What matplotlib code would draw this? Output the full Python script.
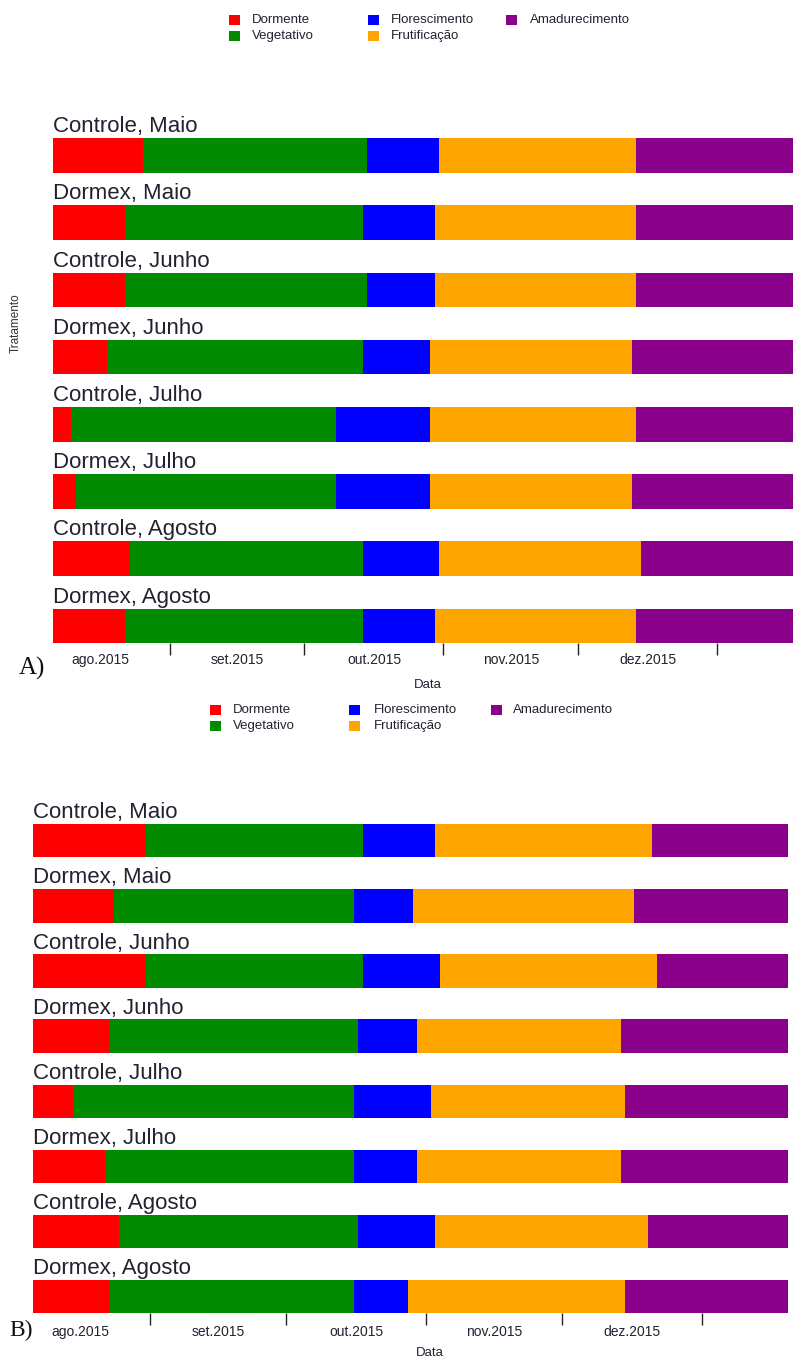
import matplotlib
matplotlib.use("Agg")
import matplotlib.pyplot as plt
import matplotlib.dates as mdates
from matplotlib.patches import Rectangle
from matplotlib.ticker import FixedLocator, NullFormatter, FixedFormatter
from datetime import date

plt.rcParams['font.family'] = ['Liberation Sans', 'DejaVu Sans']

# ---------------------------------------------------------------- data
treatments = ["Controle, Maio", "Dormex, Maio", "Controle, Junho", "Dormex, Junho",
              "Controle, Julho", "Dormex, Julho", "Controle, Agosto", "Dormex, Agosto"]
phases = ["Dormente", "Vegetativo", "Florescimento", "Frutificação", "Amadurecimento"]
phase_colors = ["#FF0000", "#008B00", "#0000FF", "#FFA500", "#8B008B"]

month_labels = ["ago.2015", "set.2015", "out.2015", "nov.2015", "dez.2015"]

season_start = "2015-08-06"
season_end = "2016-01-20"

# Panel A: end date of each phase per treatment
a_dormente_end = ["2015-08-26", "2015-08-22", "2015-08-22", "2015-08-18",
                  "2015-08-10", "2015-08-11", "2015-08-23", "2015-08-22"]
a_vegetativo_end = ["2015-10-15", "2015-10-14", "2015-10-15", "2015-10-14",
                    "2015-10-08", "2015-10-08", "2015-10-14", "2015-10-14"]
a_florescimento_end = ["2015-10-31", "2015-10-30", "2015-10-30", "2015-10-29",
                       "2015-10-29", "2015-10-29", "2015-10-31", "2015-10-30"]
a_frutificacao_end = ["2015-12-14", "2015-12-14", "2015-12-14", "2015-12-13",
                      "2015-12-14", "2015-12-13", "2015-12-15", "2015-12-14"]

# Panel B: end date of each phase per treatment
b_dormente_end = ["2015-08-31", "2015-08-24", "2015-08-31", "2015-08-23",
                  "2015-08-15", "2015-08-22", "2015-08-25", "2015-08-23"]
b_vegetativo_end = ["2015-10-18", "2015-10-16", "2015-10-18", "2015-10-17",
                    "2015-10-16", "2015-10-16", "2015-10-17", "2015-10-16"]
b_florescimento_end = ["2015-11-03", "2015-10-29", "2015-11-04", "2015-10-30",
                       "2015-11-02", "2015-10-30", "2015-11-03", "2015-10-28"]
b_frutificacao_end = ["2015-12-21", "2015-12-17", "2015-12-22", "2015-12-14",
                      "2015-12-15", "2015-12-14", "2015-12-20", "2015-12-15"]

# ---------------------------------------------------------------- figure
W, H, DPI = 793, 1358, 100
fig = plt.figure(figsize=(W / DPI, H / DPI), dpi=DPI)
fig.patch.set_facecolor("white")

TEXT = "#222230"


def fx(px):
    return px / W


def fy(py):
    return 1 - py / H


def d2n(s):
    return mdates.datestr2num(s)


def draw_panel(ends, left_px, right_px, c0, spacing, bar_h, title_gap, label_pad):
    n = len(treatments)
    hh = bar_h / spacing / 2
    top_px = c0 - 0.95 * spacing
    bottom_px = c0 + (n - 1) * spacing + bar_h / 2
    ax = fig.add_axes([fx(left_px), fy(bottom_px),
                       (right_px - left_px) / W, (bottom_px - top_px) / H])
    x0, x1 = d2n(season_start), d2n(season_end)
    ax.set_xlim(x0, x1)
    ax.set_ylim(n - 1 + hh, -0.95)

    for i in range(n):
        bounds = [x0] + [d2n(e[i]) for e in ends] + [x1]
        for k in range(len(phases)):
            ax.barh(i, bounds[k + 1] - bounds[k], left=bounds[k],
                    height=2 * hh, color=phase_colors[k], edgecolor="none")
        ax.text(x0, i - hh - title_gap / spacing, treatments[i],
                ha="left", va="baseline", fontsize=16, color=TEXT)

    for s in ax.spines.values():
        s.set_visible(False)
    ax.set_yticks([])

    # month boundaries as tick marks, month names centred in each month
    firsts = [date(2015, m, 1) for m in range(9, 13)] + [date(2016, 1, 1)]
    ax.xaxis.set_major_locator(FixedLocator([mdates.date2num(d) for d in firsts]))
    ax.xaxis.set_major_formatter(NullFormatter())
    mids = []
    for m in range(8, 13):
        a = date(2015, m, 1)
        b = date(2015, m + 1, 1) if m < 12 else date(2016, 1, 1)
        mids.append(mdates.date2num(a) + (b - a).days / 2)
    ax.xaxis.set_minor_locator(FixedLocator(mids))
    ax.xaxis.set_minor_formatter(FixedFormatter(month_labels))
    ax.tick_params(axis="x", which="major", length=8.8, width=1.0,
                   color="#222222", direction="out")
    ax.tick_params(axis="x", which="minor", length=0, pad=label_pad,
                   labelsize=10, labelcolor=TEXT)
    return ax


draw_panel([a_dormente_end, a_vegetativo_end, a_florescimento_end, a_frutificacao_end],
           53.4, 802.2, 155.3, 67.24, 34.5, 6.0, 7.0)
draw_panel([b_dormente_end, b_vegetativo_end, b_florescimento_end, b_frutificacao_end],
           32.7, 787.9, 840.7, 65.14, 33.5, 5.7, 8.0)


def legend(square_x, text_x, row_y):
    slots = [(0, 0), (0, 1), (1, 0), (1, 1), (2, 0)]
    for (col, row), name, col_c in zip(slots, phases, phase_colors):
        sx, ty = square_x[col], row_y[row]
        fig.patches.append(Rectangle((fx(sx), fy(ty + 5)), 11 / W, 10 / H,
                                     transform=fig.transFigure,
                                     facecolor=col_c, edgecolor="none"))
        fig.text(fx(text_x[col]), fy(ty), name, ha="left", va="center",
                 fontsize=9.5, color=TEXT)


legend([229, 368, 506], [252, 391, 530], [20, 36])
legend([210, 349, 491], [233, 374, 513], [710, 726])

# axis titles and panel letters
fig.text(fx(428), fy(685), "Data", ha="center", va="center", fontsize=9.5, color=TEXT)
fig.text(fx(430), fy(1353), "Data", ha="center", va="center", fontsize=9.5, color=TEXT)
fig.text(fx(16), fy(323), "Tratamento", ha="center", va="center", rotation=90,
         fontsize=8.5, color="#333333")
fig.text(fx(19), fy(675), "A)", ha="left", va="baseline", fontsize=18,
         family="Liberation Serif", color="#111111")
fig.text(fx(9), fy(1336), "B)", ha="left", va="baseline", fontsize=17,
         family="Liberation Serif", color="#111111")

fig.savefig("out.png", dpi=DPI, facecolor="white")
